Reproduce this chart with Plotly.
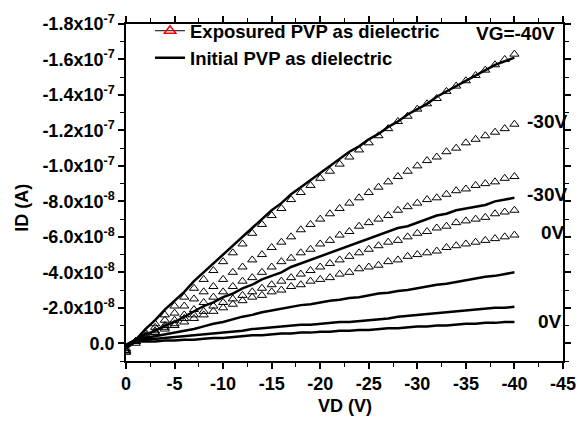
import plotly.graph_objects as go

# Drain voltage (V)
vd = [0, -1, -2, -3, -4, -5, -6, -7, -8, -9, -10, -11, -12, -13, -14, -15, -16, -17, -18, -19, -20,
      -21, -22, -23, -24, -25, -26, -27, -28, -29, -30, -31, -32, -33, -34, -35, -36, -37, -38, -39, -40]

# Drain current, in units of 1e-8 A
# Exposured PVP as dielectric (triangles)
exp_vg_m40 = [0.4, -0.1, -0.6, -1.1, -1.6, -2.1, -2.6, -3.1, -3.6, -4.1, -4.6, -5.1, -5.6, -6.2, -6.7, -7.2,
              -7.6, -8.1, -8.5, -8.9, -9.3, -9.7, -10.1, -10.5, -10.9, -11.3, -11.7, -12.1, -12.5, -12.8,
              -13.2, -13.5, -13.8, -14.2, -14.5, -14.8, -15.1, -15.4, -15.7, -16.0, -16.3]
exp_vg_m30 = [0.5, -0.1, -0.5, -0.9, -1.3, -1.7, -2.1, -2.5, -2.9, -3.2, -3.6, -4.0, -4.3, -4.7, -5.0, -5.4,
              -5.7, -6.0, -6.4, -6.7, -7.0, -7.3, -7.6, -7.9, -8.2, -8.5, -8.8, -9.1, -9.4, -9.7,
              -10.0, -10.3, -10.5, -10.8, -11.0, -11.3, -11.5, -11.7, -11.9, -12.1, -12.35]
exp_vg_m20 = [0.4, -0.1, -0.4, -0.7, -1.0, -1.3, -1.6, -1.9, -2.3, -2.6, -2.9, -3.2, -3.5, -3.7, -4.0, -4.3,
              -4.6, -4.8, -5.1, -5.3, -5.6, -5.8, -6.1, -6.3, -6.6, -6.8, -7.0, -7.2, -7.5, -7.7,
              -7.9, -8.1, -8.2, -8.4, -8.6, -8.7, -8.9, -9.0, -9.1, -9.3, -9.4]
exp_vg_m10 = [0.3, -0.1, -0.4, -0.6, -0.9, -1.1, -1.4, -1.6, -1.8, -2.1, -2.3, -2.5, -2.7, -2.9, -3.1, -3.3,
              -3.5, -3.7, -3.9, -4.1, -4.3, -4.5, -4.7, -4.9, -5.1, -5.3, -5.5, -5.7, -5.8, -6.0,
              -6.2, -6.3, -6.5, -6.6, -6.8, -6.9, -7.0, -7.1, -7.3, -7.4, -7.5]
exp_vg_0 = [0.5, 0.0, -0.3, -0.6, -0.8, -1.0, -1.2, -1.4, -1.6, -1.8, -2.0, -2.2, -2.4, -2.6, -2.7, -2.9,
            -3.0, -3.2, -3.3, -3.5, -3.6, -3.7, -3.9, -4.0, -4.2, -4.3, -4.4, -4.6, -4.7, -4.9,
            -5.0, -5.1, -5.2, -5.4, -5.5, -5.6, -5.7, -5.8, -5.9, -6.0, -6.1]

# Initial PVP as dielectric (solid lines)
ini_vg_m40 = [0.2, -0.2, -0.8, -1.3, -1.9, -2.4, -2.9, -3.5, -4.0, -4.5, -5.0, -5.5, -6.0, -6.5, -7.0, -7.5,
              -7.9, -8.4, -8.8, -9.2, -9.6, -10.0, -10.4, -10.8, -11.1, -11.5, -11.8, -12.2, -12.5, -12.9,
              -13.2, -13.5, -13.9, -14.2, -14.5, -14.8, -15.1, -15.4, -15.7, -15.9, -16.1]
ini_vg_m30 = [0.1, -0.2, -0.5, -0.7, -1.0, -1.2, -1.5, -1.8, -2.1, -2.3, -2.6, -2.8, -3.1, -3.3, -3.6, -3.8,
              -4.0, -4.3, -4.5, -4.7, -4.9, -5.1, -5.3, -5.5, -5.7, -5.9, -6.1, -6.3, -6.5, -6.6,
              -6.8, -7.0, -7.2, -7.3, -7.5, -7.6, -7.7, -7.8, -8.0, -8.1, -8.2]
ini_vg_m20 = [0.1, -0.2, -0.3, -0.4, -0.5, -0.6, -0.7, -0.8, -0.95, -1.1, -1.2, -1.35, -1.5, -1.6, -1.75, -1.85,
              -1.95, -2.05, -2.15, -2.2, -2.3, -2.4, -2.45, -2.55, -2.6, -2.7, -2.8, -2.85, -2.95, -3.0,
              -3.1, -3.2, -3.3, -3.35, -3.45, -3.55, -3.65, -3.75, -3.8, -3.9, -4.0]
ini_vg_m10 = [0.2, -0.1, -0.2, -0.25, -0.3, -0.35, -0.4, -0.45, -0.5, -0.55, -0.6, -0.65, -0.7, -0.8, -0.85, -0.9,
              -0.95, -1.0, -1.05, -1.05, -1.1, -1.15, -1.2, -1.2, -1.25, -1.3, -1.35, -1.4, -1.5, -1.55,
              -1.6, -1.65, -1.7, -1.75, -1.8, -1.85, -1.9, -1.95, -2.0, -2.0, -2.06]
ini_vg_0 = [0.3, -0.1, -0.1, -0.1, -0.15, -0.15, -0.2, -0.2, -0.25, -0.3, -0.3, -0.35, -0.4, -0.45, -0.45, -0.5,
            -0.55, -0.55, -0.6, -0.6, -0.65, -0.65, -0.7, -0.7, -0.75, -0.75, -0.8, -0.85, -0.85, -0.9,
            -0.95, -0.95, -1.0, -1.0, -1.05, -1.1, -1.1, -1.15, -1.15, -1.2, -1.2]

UNIT = 1e-8

exposed_series = [exp_vg_m40, exp_vg_m30, exp_vg_m20, exp_vg_m10, exp_vg_0]
initial_series = [ini_vg_m40, ini_vg_m30, ini_vg_m20, ini_vg_m10, ini_vg_0]

y_tick_vals = [0, -2e-8, -4e-8, -6e-8, -8e-8, -1.0e-7, -1.2e-7, -1.4e-7, -1.6e-7, -1.8e-7]
y_tick_text = ["0.0", "-2.0x10<sup>-8</sup>", "-4.0x10<sup>-8</sup>", "-6.0x10<sup>-8</sup>",
               "-8.0x10<sup>-8</sup>", "-1.0x10<sup>-7</sup>", "-1.2x10<sup>-7</sup>",
               "-1.4x10<sup>-7</sup>", "-1.6x10<sup>-7</sup>", "-1.8x10<sup>-7</sup>"]
x_tick_vals = [0, -5, -10, -15, -20, -25, -30, -35, -40, -45]
x_tick_text = ["0", "-5", "-10", "-15", "-20", "-25", "-30", "-35", "-40", "-45"]

FONT = "Arial, 'Liberation Sans', sans-serif"

fig = go.Figure()

# legend entry for exposed series
fig.add_trace(go.Scatter(
    x=[None], y=[None], mode="lines+markers", name="Exposured PVP as dielectric",
    line=dict(color="black", width=1),
    marker=dict(symbol="triangle-up-open", color="red", size=10, line=dict(width=1.5, color="red")),
    legendgroup="e"))

for i, s in enumerate(initial_series):
    fig.add_trace(go.Scatter(
        x=vd, y=[v * UNIT for v in s], mode="lines", name="Initial PVP as dielectric",
        line=dict(color="black", width=2.5), showlegend=(i == 0), legendgroup="i"))

for s in exposed_series:
    fig.add_trace(go.Scatter(
        x=vd, y=[v * UNIT for v in s], mode="markers", showlegend=False,
        marker=dict(symbol="triangle-up-open", color="black", size=8, line=dict(width=1, color="black"))))

axis_common = dict(
    showline=True, linecolor="black", linewidth=1.5, mirror="ticks",
    ticks="outside", ticklen=6, tickwidth=1.5, tickcolor="black",
    showgrid=False, zeroline=False, automargin=False,
    tickfont=dict(family=FONT, size=18, color="black", weight="bold"),
)

fig.update_xaxes(range=[0, -45], tickmode="array", tickvals=x_tick_vals, ticktext=x_tick_text,
                 minor=dict(tickmode="linear", tick0=0, dtick=2.5, ticklen=4, tickwidth=1.2,
                            tickcolor="black", ticks="outside", showgrid=False),
                 **axis_common)
fig.update_yaxes(range=[1e-8, -1.8e-7], tickmode="array", tickvals=y_tick_vals, ticktext=y_tick_text,
                 minor=dict(tickmode="linear", tick0=0, dtick=1e-8, ticklen=4, tickwidth=1.2,
                            tickcolor="black", ticks="outside", showgrid=False),
                 **axis_common)

ann_font = dict(family=FONT, size=19, color="black", weight="bold")
annotations = [
    dict(x=-44.4, y=-17.45e-8, text="VG=-40V", xanchor="right"),
    dict(x=-41.1, y=-12.5e-8, text="-30V", xanchor="left"),
    dict(x=-41.1, y=-8.4e-8, text="-30V", xanchor="left"),
    dict(x=-42.5, y=-6.25e-8, text="0V", xanchor="left"),
    dict(x=-42.2, y=-1.2e-8, text="0V", xanchor="left"),
]
for a in annotations:
    fig.add_annotation(x=a["x"], y=a["y"], xref="x", yref="y", text=a["text"], showarrow=False,
                       xanchor=a["xanchor"], yanchor="middle", font=ann_font)

title_font = dict(family=FONT, size=18, color="black", weight="bold")
fig.add_annotation(text="ID (A)", xref="paper", yref="paper", x=-0.238, y=0.455, textangle=-90,
                   showarrow=False, xanchor="center", yanchor="middle", font=title_font)
fig.add_annotation(text="VD (V)", xref="paper", yref="paper", x=0.5, y=-0.135,
                   showarrow=False, xanchor="center", yanchor="middle", font=title_font)

fig.update_layout(
    width=586, height=421,
    margin=dict(l=126, r=23, t=14, b=60),
    plot_bgcolor="white", paper_bgcolor="white",
    legend=dict(x=0.055, y=1.035, xanchor="left", yanchor="top", bgcolor="rgba(0,0,0,0)",
                font=dict(family=FONT, size=18.5, color="black", weight="bold"),
                tracegroupgap=0, traceorder="grouped"),
    showlegend=True,
)

fig.write_html("out.html", config={"displayModeBar": False},
               post_script="document.body.style.margin='0';")
